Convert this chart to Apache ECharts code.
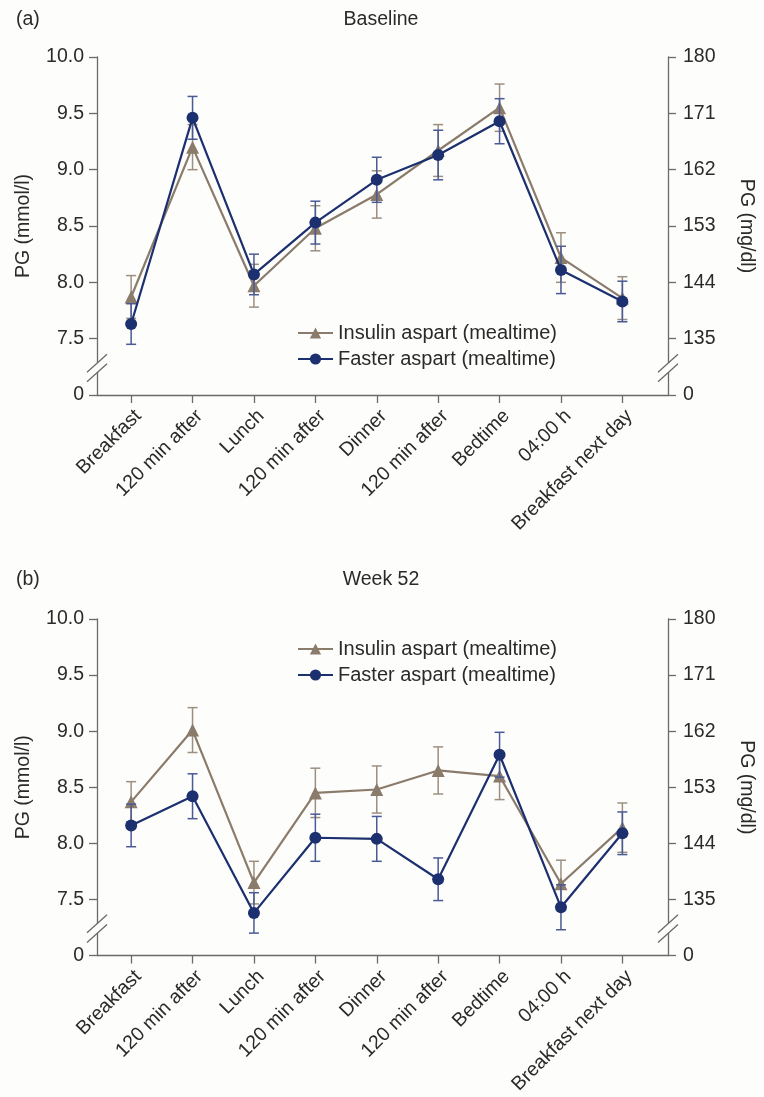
<!DOCTYPE html>
<html>
<head>
<meta charset="utf-8">
<script src="https://cdn.jsdelivr.net/npm/echarts@6/dist/echarts.min.js"></script>
<style>
html,body{margin:0;padding:0;background:#fdfdfc;}
#chart{width:764px;height:1097px;}
</style>
</head>
<body>
<div id="chart"></div>
<script>
// ---- data ----
const categories = ['Breakfast', '120 min after', 'Lunch', '120 min after', 'Dinner', '120 min after', 'Bedtime', '04:00 h', 'Breakfast next day'];
const seriesNames = ['Insulin aspart (mealtime)', 'Faster aspart (mealtime)'];
const panelTitles = ['Baseline', 'Week 52'];
const panelTags = ['(a)', '(b)'];

const baselineInsulin    = [7.87, 9.20, 7.97, 8.48, 8.78, 9.17, 9.55, 8.22, 7.86];
const baselineInsulinErr = [0.19, 0.20, 0.19, 0.20, 0.21, 0.23, 0.21, 0.22, 0.19];
const baselineFaster     = [7.63, 9.46, 8.07, 8.53, 8.91, 9.13, 9.43, 8.11, 7.83];
const baselineFasterErr  = [0.18, 0.19, 0.18, 0.19, 0.20, 0.22, 0.20, 0.21, 0.18];

const week52Insulin      = [8.37, 9.01, 7.65, 8.45, 8.48, 8.65, 8.60, 7.64, 8.14];
const week52InsulinErr   = [0.18, 0.20, 0.19, 0.22, 0.21, 0.21, 0.21, 0.21, 0.22];
const week52Faster       = [8.16, 8.42, 7.38, 8.05, 8.04, 7.68, 8.79, 7.43, 8.09];
const week52FasterErr    = [0.19, 0.20, 0.18, 0.21, 0.20, 0.19, 0.20, 0.20, 0.19];

const mmolTicks = [7.0, 7.5, 8.0, 8.5, 9.0, 9.5, 10.0];   // 7.0 shown as "0" (broken axis)
const mgdlTicks = [126, 135, 144, 153, 162, 171, 180];    // 126 shown as "0" (broken axis)

// ---- style ----
const FONT = '"Liberation Sans", Arial, sans-serif';
const FS = 19.5;
const insulinColor = '#8a7b6b';
const insulinErrColor = '#9d8f80';
const fasterColor = '#1c2f6e';
const fasterErrColor = '#4a5a96';
const axisColor = '#6a6a6a';
const textColor = '#2a2a2a';

const XMIN = -0.556, XMAX = 8.743;
const grids = [
  {left: 97, right: 86, top: 57, height: 338},
  {left: 97, right: 86, top: 619, height: 337}
];

function errRender(color) {
  return function (params, api) {
    const x = api.value(0), m = api.value(1), e = api.value(2);
    const t = api.coord([x, m + e]);
    const b = api.coord([x, m - e]);
    const h = 5;
    const st = {stroke: color, lineWidth: 1.5};
    return {type: 'group', children: [
      {type: 'line', shape: {x1: t[0], y1: t[1], x2: b[0], y2: b[1]}, style: st},
      {type: 'line', shape: {x1: t[0] - h, y1: t[1], x2: t[0] + h, y2: t[1]}, style: st},
      {type: 'line', shape: {x1: b[0] - h, y1: b[1], x2: b[0] + h, y2: b[1]}, style: st}
    ]};
  };
}

const xAxes = [], yAxes = [], series = [], titles = [], legends = [];
const panels = [
  {ins: baselineInsulin, insE: baselineInsulinErr, fas: baselineFaster, fasE: baselineFasterErr, legendTop: 318},
  {ins: week52Insulin, insE: week52InsulinErr, fas: week52Faster, fasE: week52FasterErr, legendTop: 634}
];

panels.forEach((p, g) => {
  xAxes.push({
    type: 'value', gridIndex: g, min: XMIN, max: XMAX,
    axisLine: {show: true, onZero: false, lineStyle: {color: axisColor, width: 1.3}},
    axisTick: {show: true, customValues: categories.map((c, i) => i), length: 8, lineStyle: {color: axisColor, width: 1.3}},
    axisLabel: {customValues: categories.map((c, i) => i), rotate: 45, margin: 11, verticalAlign: 'top',
      formatter: v => categories[Math.round(v)], color: textColor, fontSize: FS, fontFamily: FONT},
    splitLine: {show: false}
  });
  yAxes.push({
    type: 'value', gridIndex: g, position: 'left', min: mmolTicks[0], max: mmolTicks[mmolTicks.length - 1], interval: 0.5,
    name: 'PG (mmol/l)', nameLocation: 'middle', nameGap: 63,
    nameTextStyle: {color: textColor, fontSize: FS, fontFamily: FONT},
    axisLine: {show: true, onZero: false, lineStyle: {color: axisColor, width: 1.3}},
    axisTick: {show: true, length: 8, lineStyle: {color: axisColor, width: 1.3}},
    axisLabel: {margin: 13, color: textColor, fontSize: FS, fontFamily: FONT,
      formatter: v => (Math.abs(v - mmolTicks[0]) < 1e-9 ? '0' : v.toFixed(1))},
    splitLine: {show: false}
  });
  yAxes.push({
    type: 'value', gridIndex: g, position: 'right', min: mgdlTicks[0], max: mgdlTicks[mgdlTicks.length - 1], interval: 9,
    name: 'PG (mg/dl)', nameLocation: 'middle', nameGap: 68, nameRotate: -90,
    nameTextStyle: {color: textColor, fontSize: FS, fontFamily: FONT},
    axisLine: {show: true, onZero: false, lineStyle: {color: axisColor, width: 1.3}},
    axisTick: {show: true, length: 8, lineStyle: {color: axisColor, width: 1.3}},
    axisLabel: {margin: 15, color: textColor, fontSize: FS, fontFamily: FONT,
      formatter: v => (v === mgdlTicks[0] ? '0' : String(v))},
    splitLine: {show: false}
  });
  const yi = g * 2;
  series.push({
    type: 'custom', name: seriesNames[0] + ' err', xAxisIndex: g, yAxisIndex: yi,
    renderItem: errRender(insulinErrColor), encode: {x: 0, y: 1},
    data: categories.map((c, i) => [i, p.ins[i], p.insE[i]]), z: 2, silent: true
  });
  series.push({
    type: 'line', name: seriesNames[0], xAxisIndex: g, yAxisIndex: yi,
    data: categories.map((c, i) => [i, p.ins[i]]),
    symbol: 'triangle', symbolSize: 13, showSymbol: true,
    lineStyle: {color: insulinColor, width: 2.2}, itemStyle: {color: insulinColor},
    z: 3, animation: false
  });
  series.push({
    type: 'custom', name: seriesNames[1] + ' err', xAxisIndex: g, yAxisIndex: yi,
    renderItem: errRender(fasterErrColor), encode: {x: 0, y: 1},
    data: categories.map((c, i) => [i, p.fas[i], p.fasE[i]]), z: 4, silent: true
  });
  series.push({
    type: 'line', name: seriesNames[1], xAxisIndex: g, yAxisIndex: yi,
    data: categories.map((c, i) => [i, p.fas[i]]),
    symbol: 'circle', symbolSize: 12, showSymbol: true,
    lineStyle: {color: fasterColor, width: 2.2}, itemStyle: {color: fasterColor},
    z: 5, animation: false
  });
  const titleTop = g === 0 ? 5 : 565;
  titles.push({text: panelTags[g], left: 11, top: titleTop, textStyle: {fontSize: FS, fontWeight: 'normal', color: textColor, fontFamily: FONT}});
  titles.push({text: panelTitles[g], left: 376, textAlign: 'center', top: titleTop, textStyle: {fontSize: FS, fontWeight: 'normal', color: textColor, fontFamily: FONT}});
  legends.push({
    orient: 'vertical', left: 292, top: p.legendTop, itemWidth: 35, itemHeight: 14, itemGap: 6,
    data: seriesNames, textStyle: {fontSize: 20, color: textColor, fontFamily: FONT},
    selectedMode: false
  });
});

const chart = echarts.init(document.getElementById('chart'), null, {renderer: 'canvas'});
chart.setOption({
  backgroundColor: '#fdfdfc',
  animation: false,
  title: titles,
  legend: legends,
  grid: grids,
  xAxis: xAxes,
  yAxis: yAxes,
  series: series
});

// axis-break marks on both y axes of each panel
const BREAK_AT = 7.24;
const graphics = [];
grids.forEach((gr, g) => {
  [XMIN, XMAX].forEach(xv => {
    const c = chart.convertToPixel({gridIndex: g}, [xv, BREAK_AT]);
    const cx = c[0], cy = c[1];
    const dx = 10, dy = 9, sep = 4.8;
    graphics.push({type: 'polygon', z: 100,
      shape: {points: [[cx - dx, cy - sep + dy], [cx + dx, cy - sep - dy], [cx + dx, cy + sep - dy], [cx - dx, cy + sep + dy]]},
      style: {fill: '#fdfdfc'}});
    [-sep, sep].forEach(o => {
      graphics.push({type: 'line', z: 101,
        shape: {x1: cx - dx, y1: cy + o + dy, x2: cx + dx, y2: cy + o - dy},
        style: {stroke: axisColor, lineWidth: 1.3}});
    });
  });
});
chart.setOption({graphic: graphics});
</script>
</body>
</html>
